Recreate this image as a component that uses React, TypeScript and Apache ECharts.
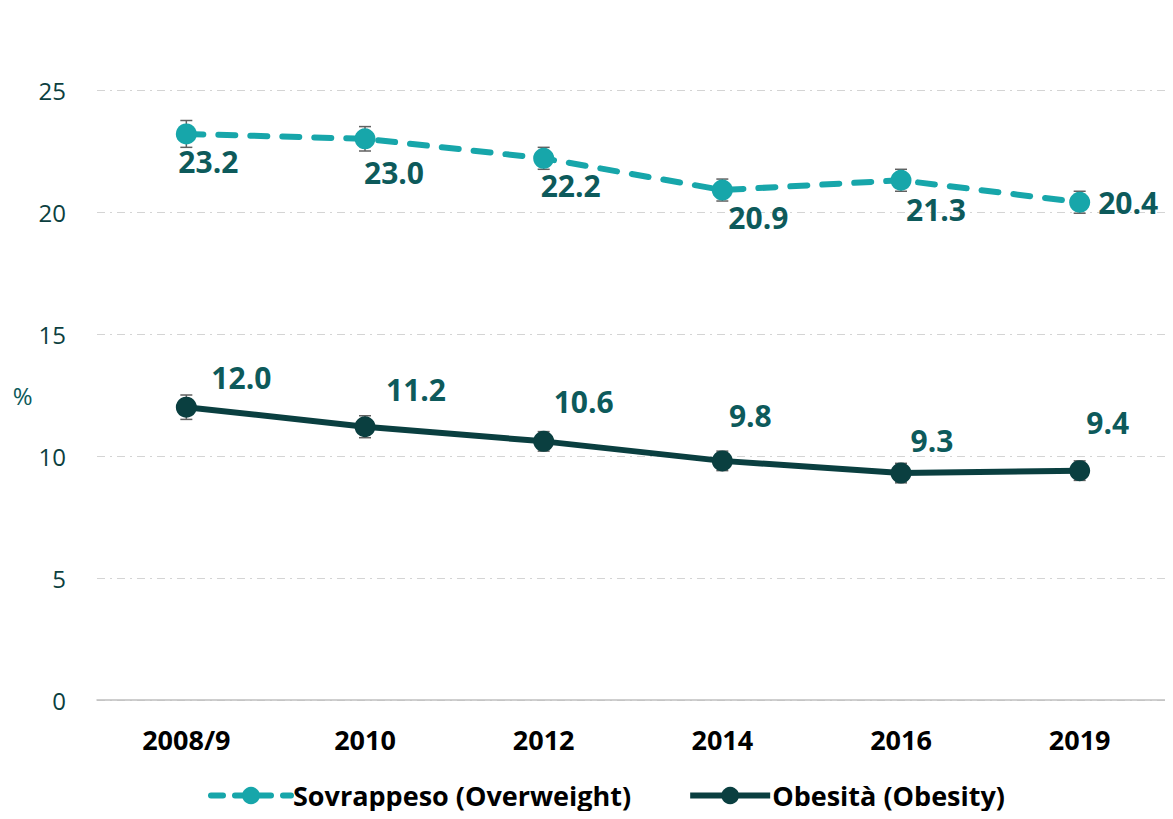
import React, { useEffect, useRef } from "react";
import * as echarts from "echarts";

const categories = ["2008/9", "2010", "2012", "2014", "2016", "2019"];
const overweight = [23.2, 23.0, 22.2, 20.9, 21.3, 20.4];
const overweightErr = [0.55, 0.5, 0.45, 0.45, 0.45, 0.45];
const obesity = [12.0, 11.2, 10.6, 9.8, 9.3, 9.4];
const obesityErr = [0.5, 0.45, 0.4, 0.4, 0.4, 0.4];
const yTicks = [0, 5, 10, 15, 20, 25];

const overweightLabelOffsets = [[22, 0], [29, 6], [27, 0], [36, 0], [35, 2], [6, 0]];
const obesityLabelOffsets = [[55, 0], [51, -8], [40, -10], [28, -16], [31, -3], [28, -19]];

const FONT = "'Open Sans', 'Noto Sans', sans-serif";
const C_OVER = "#17a6aa";
const C_OB = "#0a3f40";
const C_LABEL = "#0d5a5b";

function errSeries(vals: number[], errs: number[]) {
  return {
    type: "custom",
    z: 1,
    silent: true,
    data: vals.map((v, i) => [i, v - errs[i], v + errs[i]]),
    renderItem: (params: any, api: any) => {
      const x = api.value(0);
      const lo = api.coord([x, api.value(1)]);
      const hi = api.coord([x, api.value(2)]);
      const w = 6;
      const st = { stroke: "#606060", lineWidth: 1.5 };
      return {
        type: "group",
        children: [
          { type: "line", shape: { x1: lo[0], y1: lo[1], x2: hi[0], y2: hi[1] }, style: st },
          { type: "line", shape: { x1: lo[0] - w, y1: lo[1], x2: lo[0] + w, y2: lo[1] }, style: st },
          { type: "line", shape: { x1: hi[0] - w, y1: hi[1], x2: hi[0] + w, y2: hi[1] }, style: st },
        ],
      };
    },
  };
}

export default function App() {
  const ref = useRef<HTMLDivElement>(null);
  useEffect(() => {
    if (!ref.current) return;
    const chart = echarts.init(ref.current, null, { renderer: "svg" });
    chart.setOption({
      animation: false,
      textStyle: { fontFamily: FONT },
      grid: { left: 97, right: 4, top: 90, bottom: 119, containLabel: false },
      legend: {
        top: 782,
        left: 208,
        padding: 0,
        itemWidth: 80,
        itemHeight: 22,
        itemGap: 56,
        textStyle: {
          fontFamily: FONT,
          fontSize: 27,
          fontWeight: "bold",
          color: "#000",
          padding: [0, 0, 0, -3],
        },
        data: [
          { name: "Sovrappeso (Overweight)", lineStyle: { width: 6, type: [12, 12] } },
          { name: "Obesità (Obesity)", lineStyle: { width: 6 } },
        ],
      },
      xAxis: {
        type: "category",
        data: categories,
        axisLine: { lineStyle: { color: "#bfbfbf", width: 1.5 } },
        axisTick: { show: false },
        axisLabel: { color: "#000", fontSize: 27, fontWeight: "bold", margin: 26, fontFamily: FONT },
      },
      yAxis: {
        type: "value",
        min: yTicks[0],
        max: yTicks[yTicks.length - 1],
        interval: 5,
        name: "%",
        nameLocation: "middle",
        nameRotate: 0,
        nameGap: 62,
        nameTextStyle: { color: C_LABEL, fontSize: 24, fontFamily: FONT, padding: [0, 0, 120, 0] },
        axisLabel: { color: "#0c3f40", fontSize: 24, margin: 31, fontFamily: FONT },
        splitLine: { lineStyle: { color: "#d4d4d4", type: [8, 5, 2, 5], width: 1.2 } },
        axisLine: { show: false },
        axisTick: { show: false },
      },
      series: [
        errSeries(overweight, overweightErr),
        errSeries(obesity, obesityErr),
        {
          name: "Sovrappeso (Overweight)",
          type: "line",
          z: 3,
          data: overweight.map((v, i) => ({
            value: v,
            label: {
              position: i === overweight.length - 1 ? "right" : "bottom",
              offset: overweightLabelOffsets[i],
            },
          })),
          symbol: "circle",
          symbolSize: 21,
          itemStyle: { color: C_OVER },
          lineStyle: { color: C_OVER, width: 6, type: [17, 15], cap: "round" },
          label: {
            show: true,
            formatter: (p: any) => p.value.toFixed(1),
            color: C_LABEL,
            fontSize: 30,
            fontWeight: "bold",
            fontFamily: FONT,
            distance: 2,
          },
        },
        {
          name: "Obesità (Obesity)",
          type: "line",
          z: 3,
          data: obesity.map((v, i) => ({
            value: v,
            label: { offset: obesityLabelOffsets[i] },
          })),
          symbol: "circle",
          symbolSize: 21,
          itemStyle: { color: C_OB },
          lineStyle: { color: C_OB, width: 6 },
          label: {
            show: true,
            position: "top",
            formatter: (p: any) => p.value.toFixed(1),
            color: C_LABEL,
            fontSize: 30,
            fontWeight: "bold",
            fontFamily: FONT,
            distance: 4,
          },
        },
      ],
    });
    return () => chart.dispose();
  }, []);
  return <div ref={ref} style={{ width: 1173, height: 819, margin: -8 }} />;
}
